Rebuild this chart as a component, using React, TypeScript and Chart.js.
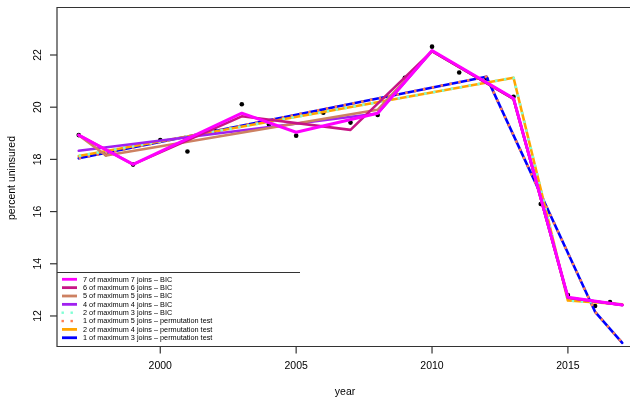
import React, { useEffect, useRef } from "react";
import { Chart, registerables } from "chart.js";

Chart.register(...registerables);

// observed data
const obsYears = [1997, 1998, 1999, 2000, 2001, 2002, 2003, 2004, 2005, 2006, 2007, 2008, 2009, 2010, 2011, 2012, 2013, 2014, 2015, 2016, 2016.55];
const obsValues = [18.93, 18.2, 17.8, 18.74, 18.3, 19.1, 20.11, 19.34, 18.91, 19.79, 19.41, 19.7, 21.13, 22.32, 21.33, 21.1, 20.4, 16.29, 12.8, 12.38, 12.53];

// fitted joinpoint lines
const fit7Years = [1997, 1999, 2003, 2005, 2008, 2010, 2013, 2015, 2017];
const fit7Values = [18.93, 17.81, 19.77, 19.04, 19.77, 22.17, 20.34, 12.72, 12.42];
const fit6Years = [1997, 1999, 2003, 2007, 2010, 2013, 2015, 2017];
const fit6Values = [18.93, 17.81, 19.65, 19.13, 22.15, 20.32, 12.7, 12.42];
const fit5Years = [1997, 1998, 2008, 2010, 2013, 2015, 2017];
const fit5Values = [18.93, 18.15, 19.9, 22.15, 20.32, 12.7, 12.42];
const fit4Years = [1997, 2008, 2010, 2013, 2015, 2017];
const fit4Values = [18.33, 19.76, 22.15, 20.32, 12.7, 12.42];
const fit2Years = [1997, 2013, 2015, 2017];
const fit2Values = [18.13, 21.13, 12.59, 12.45];
const fit1Years = [1997, 2012, 2016, 2017];
const fit1Values = [18.04, 21.17, 12.16, 10.97];

const xTicks = [2000, 2005, 2010, 2015];
const yTicks = [12, 14, 16, 18, 20, 22];

const legendLabels = [
  "7 of maximum 7 joins \u2013 BIC",
  "6 of maximum 6 joins \u2013 BIC",
  "5 of maximum 5 joins \u2013 BIC",
  "4 of maximum 4 joins \u2013 BIC",
  "2 of maximum 3 joins \u2013 BIC",
  "1 of maximum 5 joins \u2013 permutation test",
  "2 of maximum 4 joins \u2013 permutation test",
  "1 of maximum 3 joins \u2013 permutation test",
];
const legendColors = ["#FF00FF", "#C71585", "#CD8162", "#A020F0", "#7FFFD4", "#FF7F50", "#FFA500", "#0000FF"];
const legendDotted = [false, false, false, false, true, true, false, false];

const pts = (xs: number[], ys: number[]) => xs.map((x, i) => ({ x, y: ys[i] }));

const FONT = '"Liberation Sans", Arial, Helvetica, sans-serif';

const rPlugin = {
  id: "rframe",
  afterDraw(chart: any) {
    const { ctx, chartArea: a, scales } = chart;
    const sx = scales.x;
    const sy = scales.y;
    ctx.save();
    ctx.strokeStyle = "#333";
    ctx.lineWidth = 1.2;
    ctx.beginPath();
    ctx.rect(a.left, a.top, a.right - a.left, a.bottom - a.top);
    ctx.stroke();

    ctx.fillStyle = "#000";
    ctx.font = `10.5px ${FONT}`;
    ctx.textAlign = "center";
    ctx.textBaseline = "middle";
    yTicks.forEach((v) => {
      const py = sy.getPixelForValue(v);
      ctx.beginPath();
      ctx.moveTo(a.left - 7, py);
      ctx.lineTo(a.left, py);
      ctx.stroke();
      ctx.save();
      ctx.translate(38.5, py);
      ctx.rotate(-Math.PI / 2);
      ctx.fillText(String(v), 0, 0);
      ctx.restore();
    });
    xTicks.forEach((v) => {
      const px = sx.getPixelForValue(v);
      ctx.beginPath();
      ctx.moveTo(px, a.bottom);
      ctx.lineTo(px, a.bottom + 7);
      ctx.stroke();
      ctx.fillText(String(v), px, 366.5);
    });
    ctx.fillText("year", 345, 392);
    ctx.save();
    ctx.translate(12.5, (a.top + a.bottom) / 2 + 1);
    ctx.rotate(-Math.PI / 2);
    ctx.fillText("percent uninsured", 0, 0);
    ctx.restore();

    // legend (top edge of its frame)
    const top = 272.5;
    ctx.strokeStyle = "#333";
    ctx.lineWidth = 1;
    ctx.beginPath();
    ctx.moveTo(a.left, top);
    ctx.lineTo(300, top);
    ctx.stroke();
    ctx.font = `7.3px ${FONT}`;
    ctx.textAlign = "left";
    legendLabels.forEach((lab, i) => {
      const ly = 279.3 + i * 8.35;
      ctx.strokeStyle = legendColors[i];
      ctx.fillStyle = legendColors[i];
      if (legendDotted[i]) {
        [62.7, 71.7].forEach((dx) => {
          ctx.fillRect(dx - 1.2, ly - 1.2, 2.4, 2.4);
        });
      } else {
        ctx.lineWidth = 2.8;
        ctx.beginPath();
        ctx.moveTo(62, ly);
        ctx.lineTo(77, ly);
        ctx.stroke();
      }
      ctx.fillStyle = "#000";
      ctx.fillText(lab, 83, ly + 0.3);
    });
    ctx.restore();
  },
};

export default function App() {
  const ref = useRef<HTMLCanvasElement | null>(null);
  useEffect(() => {
    if (!ref.current) return;
    const line = (data: any, color: string, width: number, dash: number[] = [], offset = 0) => ({
      type: "line",
      data,
      borderColor: color,
      backgroundColor: color,
      borderWidth: width,
      borderDash: dash,
      borderDashOffset: offset,
      pointRadius: 0,
      tension: 0,
      fill: false,
      borderCapStyle: dash.length ? "butt" : "round",
      borderJoinStyle: "round",
    });
    const chart = new Chart(ref.current, {
      type: "line",
      data: {
        datasets: [
          line(pts(fit7Years, fit7Values), "#FF00FF", 3),
          line(pts(fit6Years, fit6Values), "#C71585", 2.6),
          line(pts(fit5Years, fit5Values), "#CD8162", 2.6),
          line(pts(fit4Years, fit4Values), "#A020F0", 2.6),
          line(pts(fit2Years, fit2Values), "#7FFFD4", 2.6, [2.5, 6.5], 0),
          line(pts(fit1Years, fit1Values), "#FF7F50", 2.6, [2.5, 6.5], 0),
          line(pts(fit2Years, fit2Values), "#FFA500", 2.6),
          line(pts(fit1Years, fit1Values), "#0000FF", 2.6),
          {
            type: "scatter",
            data: pts(obsYears, obsValues),
            showLine: false,
            pointRadius: 2.3,
            pointBackgroundColor: "#000",
            pointBorderWidth: 0,
          } as any,
        ] as any,
      },
      options: {
        responsive: false,
        animation: false,
        devicePixelRatio: 1,
        layout: { padding: { left: 57, top: 7.5, right: 1, bottom: 52.5 } },
        scales: {
          x: { type: "linear", display: false, min: 1996.2, max: 2017.8 },
          y: { type: "linear", display: false, min: 10.83, max: 23.82 },
        },
        plugins: { legend: { display: false }, tooltip: { enabled: false } },
        events: [],
      } as any,
      plugins: [rPlugin],
    });
    return () => chart.destroy();
  }, []);
  return (
    <div style={{ position: "fixed", left: 0, top: 0, width: 630, height: 399, overflow: "hidden", background: "#fff" }}>
      <canvas ref={ref} width={648} height={399} style={{ display: "block" }} />
    </div>
  );
}
